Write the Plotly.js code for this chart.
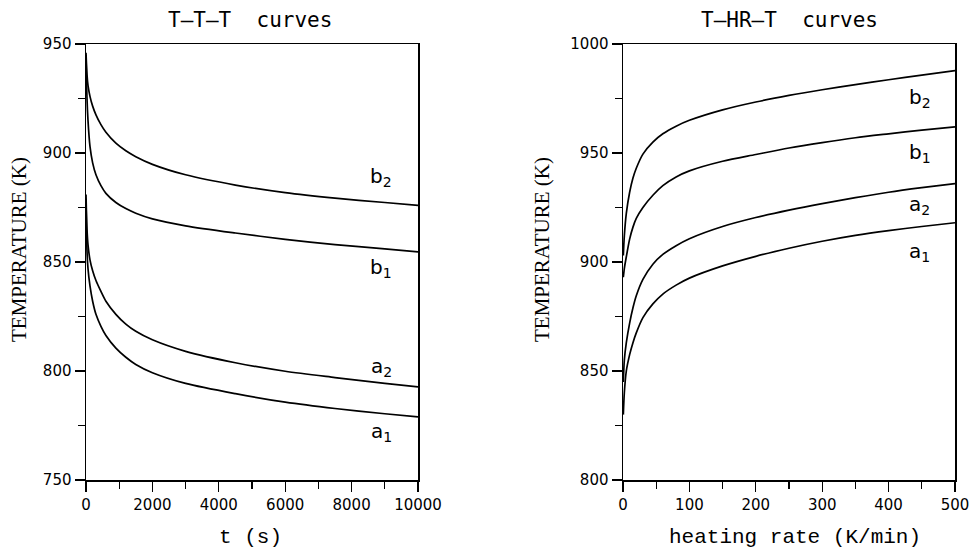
<!DOCTYPE html>
<html><head><meta charset="utf-8">
<script src="https://cdn.plot.ly/plotly-3.0.1.min.js"></script>
<style>html,body{margin:0;padding:0;background:#fff;}#chart{width:971px;height:550px;}</style>
</head><body><div id="chart"></div>
<script>
// T-T-T curves: time (s) vs temperature (K)
const timeS = [0, 30, 60, 120, 200, 300, 450, 600, 900, 1200, 1500, 2000, 3000, 4500, 6000, 7500, 9000, 10000];
const tttB2 = [946, 936, 931, 926, 921.5, 917.5, 913, 909.5, 904.5, 901, 898.3, 894.8, 890, 885.3, 881.8, 879.3, 877.3, 876];
const tttB1 = [945, 925, 915, 903, 895.5, 890, 885, 881.5, 877.3, 874.5, 872.4, 869.8, 866.6, 863.3, 860.4, 858, 856, 854.6];
const tttA2 = [881, 865, 858, 851, 846, 841.5, 836.5, 832, 826, 821.5, 818.2, 814.3, 809, 803.8, 799.9, 797, 794.3, 792.7];
const tttA1 = [879, 855, 847, 839, 832, 826, 820.5, 816.3, 810.5, 806.3, 803, 799.2, 794.3, 789.6, 785.7, 782.8, 780.4, 779];

// T-HR-T curves: heating rate (K/min) vs temperature (K)
const heatingRate = [0.5, 2, 5, 10, 15, 20, 30, 45, 60, 80, 100, 150, 200, 250, 300, 350, 400, 450, 500];
const thrB2 = [903, 912, 922.3, 932, 938.5, 943, 949.5, 955, 958.8, 962.3, 965, 969.8, 973.4, 976.4, 979, 981.4, 983.6, 985.7, 987.8];
const thrB1 = [893, 897, 902.4, 910.5, 916, 920, 925, 930.6, 935, 939, 941.8, 946.2, 949.3, 952.3, 954.8, 957, 958.8, 960.5, 962];
const thrA2 = [845, 855, 863, 872, 879, 884.5, 892, 899, 903.5, 907.5, 910.7, 916.3, 920.4, 923.8, 926.8, 929.5, 932, 934.1, 936];
const thrA1 = [830, 840, 850, 857.5, 863, 867.5, 874.5, 880.8, 885.3, 889.4, 892.6, 898.2, 902.6, 906.3, 909.5, 912.2, 914.4, 916.3, 918];

const seriesNames = ['b2', 'b1', 'a2', 'a1'];
const seriesLabels = ['b<sub>2</sub>', 'b<sub>1</sub>', 'a<sub>2</sub>', 'a<sub>1</sub>'];
const panelTitles = ['T–T–T  curves', 'T–HR–T  curves'];
const yTitle = 'TEMPERATURE (K)';
const xTitles = ['t (s)', 'heating rate (K/min)'];

const lineStyle = {color: '#000', width: 1.7, shape: 'spline', smoothing: 0.8};
const traces = [];
[tttB2, tttB1, tttA2, tttA1].forEach((ys, i) => traces.push({
  x: timeS, y: ys, type: 'scatter', mode: 'lines', name: 'TTT ' + seriesNames[i],
  line: lineStyle, xaxis: 'x', yaxis: 'y', hoverinfo: 'x+y'
}));
[thrB2, thrB1, thrA2, thrA1].forEach((ys, i) => traces.push({
  x: heatingRate, y: ys, type: 'scatter', mode: 'lines', name: 'THRT ' + seriesNames[i],
  line: lineStyle, xaxis: 'x2', yaxis: 'y2', hoverinfo: 'x+y'
}));

const tickFont = {family: 'DejaVu Sans', size: 15, color: '#000'};
function axis(extra) {
  return Object.assign({
    showline: true, mirror: true, linecolor: '#000', linewidth: 1.5,
    ticks: 'outside', ticklen: 10, tickwidth: 1.3, tickcolor: '#000',
    showgrid: false, zeroline: false, tickfont: tickFont, fixedrange: true,
    tickformat: 'd'
  }, extra);
}

const annotations = [];
const titleX = [250, 789];
titleX.forEach((px, i) => annotations.push({
  text: panelTitles[i], xref: 'paper', yref: 'paper', x: px / 971, y: (480 - 20) / 436,
  showarrow: false, xanchor: 'center', yanchor: 'middle',
  font: {family: 'DejaVu Sans Mono', size: 21, color: '#000'}
}));
[19, 542].forEach(px => annotations.push({
  text: yTitle, xref: 'paper', yref: 'paper', x: px / 971, y: (480 - 250) / 436,
  textangle: -90, showarrow: false, xanchor: 'center', yanchor: 'middle',
  font: {family: 'Liberation Serif', size: 21, color: '#000'}
}));
[250, 795].forEach((px, i) => annotations.push({
  text: xTitles[i], xref: 'paper', yref: 'paper', x: px / 971, y: (480 - 537) / 436,
  showarrow: false, xanchor: 'center', yanchor: 'middle',
  font: {family: 'Liberation Mono', size: 21, color: '#000'}
}));
const leftLabelY = [889, 847.2, 801.8, 772];
const rightLabelY = [975.2, 950, 926.1, 904.6];
seriesLabels.forEach((lab, i) => {
  annotations.push({text: lab, xref: 'x', yref: 'y', x: 8886, y: leftLabelY[i], showarrow: false,
    xanchor: 'center', yanchor: 'middle', font: {family: 'DejaVu Sans', size: 20, color: '#000'}});
  annotations.push({text: lab, xref: 'x2', yref: 'y2', x: 447, y: rightLabelY[i], showarrow: false,
    xanchor: 'center', yanchor: 'middle', font: {family: 'DejaVu Sans', size: 20, color: '#000'}});
});

const layout = {
  width: 971, height: 550, showlegend: false,
  margin: {l: 0, r: 0, t: 44, b: 70},
  paper_bgcolor: '#fff', plot_bgcolor: '#fff',
  xaxis: axis({domain: [86 / 971, 418 / 971], range: [0, 10000], dtick: 2000, tick0: 0,
    minor: {dtick: 1000, ticklen: 7, tickwidth: 1.2, tickcolor: '#000', ticks: 'outside'}}),
  yaxis: axis({anchor: 'x', range: [750, 950], dtick: 50, tick0: 750,
    minor: {dtick: 25, ticklen: 7, tickwidth: 1.2, tickcolor: '#000', ticks: 'outside'}}),
  xaxis2: axis({domain: [623 / 971, 955 / 971], anchor: 'y2', range: [0, 500], dtick: 100, tick0: 0,
    minor: {dtick: 50, ticklen: 7, tickwidth: 1.2, tickcolor: '#000', ticks: 'outside'}}),
  yaxis2: axis({anchor: 'x2', range: [800, 1000], dtick: 50, tick0: 800,
    minor: {dtick: 25, ticklen: 7, tickwidth: 1.2, tickcolor: '#000', ticks: 'outside'}}),
  annotations: annotations
};

Plotly.newPlot('chart', traces, layout, {displayModeBar: false, staticPlot: true});
</script>
</body></html>
